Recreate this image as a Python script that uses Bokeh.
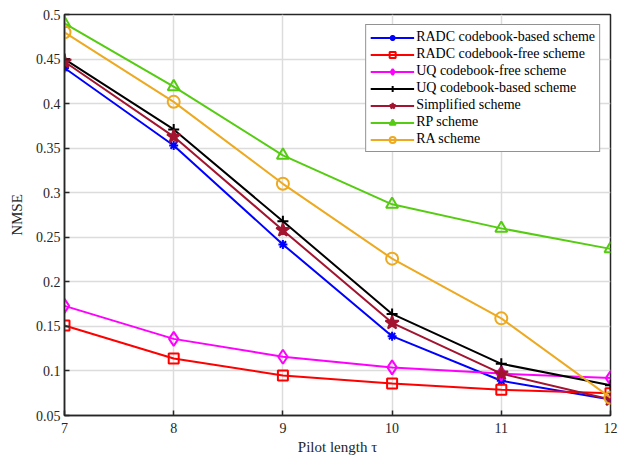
from bokeh.plotting import figure
from bokeh.models import Legend, LegendItem, FixedTicker, Range1d
from bokeh.embed import file_html
from bokeh.resources import INLINE

tau = [7, 8, 9, 10, 11, 12]
radc_cb = [0.440, 0.353, 0.242, 0.139, 0.089, 0.068]
radc_cf = [0.151, 0.114, 0.095, 0.086, 0.079, 0.075]
uq_cf = [0.173, 0.136, 0.116, 0.104, 0.097, 0.092]
uq_cb = [0.450, 0.371, 0.268, 0.164, 0.108, 0.084]
simplified = [0.447, 0.363, 0.258, 0.154, 0.097, 0.068]
rp = [0.490, 0.419, 0.342, 0.287, 0.260, 0.237]
ra = [0.480, 0.402, 0.310, 0.226, 0.159, 0.070]

x_ticks = [7, 8, 9, 10, 11, 12]
y_ticks = [0.05, 0.1, 0.15, 0.2, 0.25, 0.3, 0.35, 0.4, 0.45, 0.5]
y_labels = {0.05: "0.05", 0.1: "0.1", 0.15: "0.15", 0.2: "0.2", 0.25: "0.25",
            0.3: "0.3", 0.35: "0.35", 0.4: "0.4", 0.45: "0.45", 0.5: "0.5"}

FONT = "Liberation Serif"

p = figure(width=618, height=457, output_backend="svg", toolbar_location=None,
           x_range=Range1d(7, 12), y_range=Range1d(0.05, 0.5),
           min_border_left=64, min_border_right=8, min_border_top=14, min_border_bottom=40)
p.outline_line_color = "#262626"
p.outline_line_width = 1.5

for ax in [p.xaxis[0], p.yaxis[0]]:
    ax.major_label_text_font = FONT
    ax.major_label_text_font_size = "14px"
    ax.major_label_text_color = "#262626"
    ax.axis_label_text_font = FONT
    ax.axis_label_text_font_size = "15px"
    ax.axis_label_text_font_style = "normal"
    ax.axis_label_text_color = "#262626"
    ax.axis_line_color = "#262626"
    ax.axis_line_width = 1.5
    ax.major_tick_in = 5
    ax.major_tick_out = 0
    ax.minor_tick_line_color = None
    ax.major_tick_line_color = "#262626"
    ax.major_tick_line_width = 1.5

p.xaxis[0].ticker = FixedTicker(ticks=x_ticks)
p.yaxis[0].ticker = FixedTicker(ticks=y_ticks)
p.yaxis[0].major_label_overrides = y_labels
p.xaxis[0].axis_label = "Pilot length \u03c4"
p.yaxis[0].axis_label = "NMSE"
p.xaxis[0].major_label_standoff = 7
p.yaxis[0].major_label_standoff = 4
p.xaxis[0].axis_label_standoff = 3
p.yaxis[0].axis_label_standoff = 8

p.xgrid.ticker = FixedTicker(ticks=x_ticks)
p.ygrid.ticker = FixedTicker(ticks=y_ticks)
p.grid.grid_line_color = "#DCDCDC"
p.grid.grid_line_width = 1.5

series = [
    ("RADC codebook-based scheme", radc_cb, "#0000FF", "asterisk", 9, True),
    ("RADC codebook-free scheme", radc_cf, "#FF0000", "square", 10, False),
    ("UQ codebook-free scheme", uq_cf, "#FF00FF", "diamond", 14, False),
    ("UQ codebook-based scheme", uq_cb, "#000000", "cross", 11, False),
    ("Simplified scheme", simplified, "#A2142F", "star", 14, True),
    ("RP scheme", rp, "#55CC11", "triangle", 12, False),
    ("RA scheme", ra, "#EDA920", "circle", 12, False),
]

items = []
for name, ys, col, mk, sz, filled in series:
    l = p.line(tau, ys, line_color=col, line_width=2)
    m = p.scatter(tau, ys, marker=mk, size=sz, line_color=col, line_width=2,
                  fill_color=col if filled else None)
    items.append(LegendItem(label=name, renderers=[l, m]))

legend = Legend(items=items, location="top_right")
legend.label_text_font = FONT
legend.label_text_font_size = "14px"
legend.label_text_color = "#000000"
legend.glyph_width = 44
legend.glyph_height = 15
legend.label_height = 15
legend.spacing = 1
legend.padding = 4
legend.margin = 10
legend.label_standoff = 2
legend.border_line_color = "#262626"
legend.border_line_width = 1.5
legend.background_fill_alpha = 1
p.add_layout(legend)

open("out.html", "w").write(file_html(p, INLINE))
